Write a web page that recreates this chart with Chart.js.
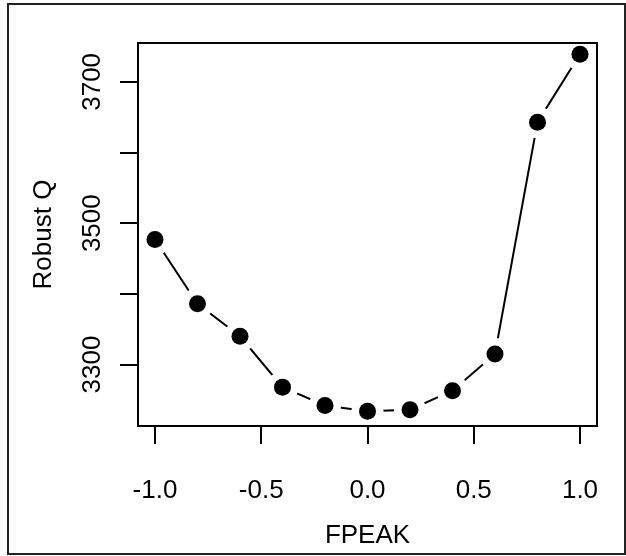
<!DOCTYPE html>
<html>
<head>
<meta charset="utf-8">
<script src="https://cdn.jsdelivr.net/npm/chart.js@4"></script>
<style>
  html, body { margin: 0; padding: 0; background: #fff; }
  #wrap { width: 626px; height: 556px; position: relative; }
</style>
</head>
<body>
<div id="wrap"><canvas id="c" width="626" height="556"></canvas></div>
<script>
// Robust Q as a function of FPEAK
const fpeak   = [-1.0, -0.8, -0.6, -0.4, -0.2, 0.0, 0.2, 0.4, 0.6, 0.8, 1.0];
const robustQ = [3477, 3386, 3340, 3268, 3242, 3234, 3236, 3263, 3315, 3643, 3739];

// axis ticks
const xTicks = [-1.0, -0.5, 0.0, 0.5, 1.0];
const yTicks = [3300, 3400, 3500, 3600, 3700];
const yTickLabels = ['3300', '', '3500', '', '3700'];

const xTitle = 'FPEAK';
const yTitle = 'Robust Q';

const FONT = '"Liberation Sans", Arial, Helvetica, sans-serif';
const FONT_SIZE = 26;
const TICK_LEN = 18;

const points = fpeak.map((x, i) => ({ x: x, y: robustQ[i] }));

// box around the plotting region, outer frame, vertical y tick labels
const framePlugin = {
  id: 'frame',
  afterDatasetsDraw(chart) {
    const { ctx, chartArea: a } = chart;
    ctx.save();
    ctx.strokeStyle = '#000';
    ctx.lineWidth = 2;
    ctx.strokeRect(a.left, a.top, a.right - a.left, a.bottom - a.top);
    ctx.restore();
  },
  afterDraw(chart) {
    const { ctx, chartArea: a } = chart;
    const ys = chart.scales.y;
    ctx.save();
    ctx.fillStyle = '#000';
    ctx.font = FONT_SIZE + 'px ' + FONT;
    ctx.textAlign = 'center';
    ctx.textBaseline = 'alphabetic';
    yTicks.forEach((v, i) => {
      const label = yTickLabels[i];
      if (!label) return;
      const py = ys.getPixelForValue(v);
      ctx.save();
      ctx.translate(a.left - TICK_LEN - 20.5, py);
      ctx.rotate(-Math.PI / 2);
      ctx.fillText(label, 0, 0);
      ctx.restore();
    });
    // outer figure frame
    ctx.strokeStyle = '#222';
    ctx.lineWidth = 2;
    ctx.strokeRect(8, 4, 617, 550);
    ctx.restore();
  }
};

const gridOpts = {
  drawOnChartArea: false,
  drawTicks: true,
  tickLength: TICK_LEN,
  tickWidth: 2,
  tickColor: '#000',
  color: '#000',
  lineWidth: 2
};

new Chart(document.getElementById('c'), {
  type: 'scatter',
  data: {
    datasets: [
      {
        // filled markers
        data: points,
        showLine: false,
        pointRadius: 8.5,
        pointHoverRadius: 8.5,
        pointBackgroundColor: '#000',
        pointBorderWidth: 0,
        order: 0
      },
      {
        // connecting line, broken around each marker
        data: points,
        showLine: true,
        borderColor: '#000',
        borderWidth: 2,
        tension: 0,
        pointRadius: 16,
        pointHoverRadius: 16,
        pointBackgroundColor: '#fff',
        pointBorderWidth: 0,
        order: 1
      }
    ]
  },
  options: {
    responsive: false,
    devicePixelRatio: 1,
    animation: false,
    events: [],
    layout: { padding: { left: 0, right: 29, top: 43, bottom: 0 } },
    plugins: {
      legend: { display: false },
      tooltip: { enabled: false },
      title: { display: false }
    },
    scales: {
      x: {
        type: 'linear',
        min: -1.08,
        max: 1.08,
        afterBuildTicks: s => { s.ticks = xTicks.map(v => ({ value: v })); },
        afterFit: s => { s.height = 130; s.paddingLeft = 0; s.paddingRight = 0; },
        grid: gridOpts,
        border: { display: false },
        ticks: {
          autoSkip: false,
          minRotation: 0,
          maxRotation: 0,
          padding: 31,
          color: '#000',
          font: { family: FONT, size: FONT_SIZE },
          callback: v => Number(v).toFixed(1)
        },
        title: {
          display: true,
          text: xTitle,
          color: '#000',
          font: { family: FONT, size: FONT_SIZE },
          padding: { top: 0, bottom: 5 }
        }
      },
      y: {
        type: 'linear',
        position: 'left',
        min: 3213,
        max: 3755,
        afterBuildTicks: s => { s.ticks = yTicks.map(v => ({ value: v })); },
        afterFit: s => { s.width = 138; s.paddingTop = 0; s.paddingBottom = 0; },
        grid: gridOpts,
        border: { display: false },
        ticks: {
          autoSkip: false,
          color: '#000',
          font: { family: FONT, size: FONT_SIZE },
          callback: () => ''
        },
        title: {
          display: true,
          text: yTitle,
          color: '#000',
          font: { family: FONT, size: FONT_SIZE },
          padding: { top: 28, bottom: 0 }
        }
      }
    }
  },
  plugins: [framePlugin]
});
</script>
</body>
</html>
